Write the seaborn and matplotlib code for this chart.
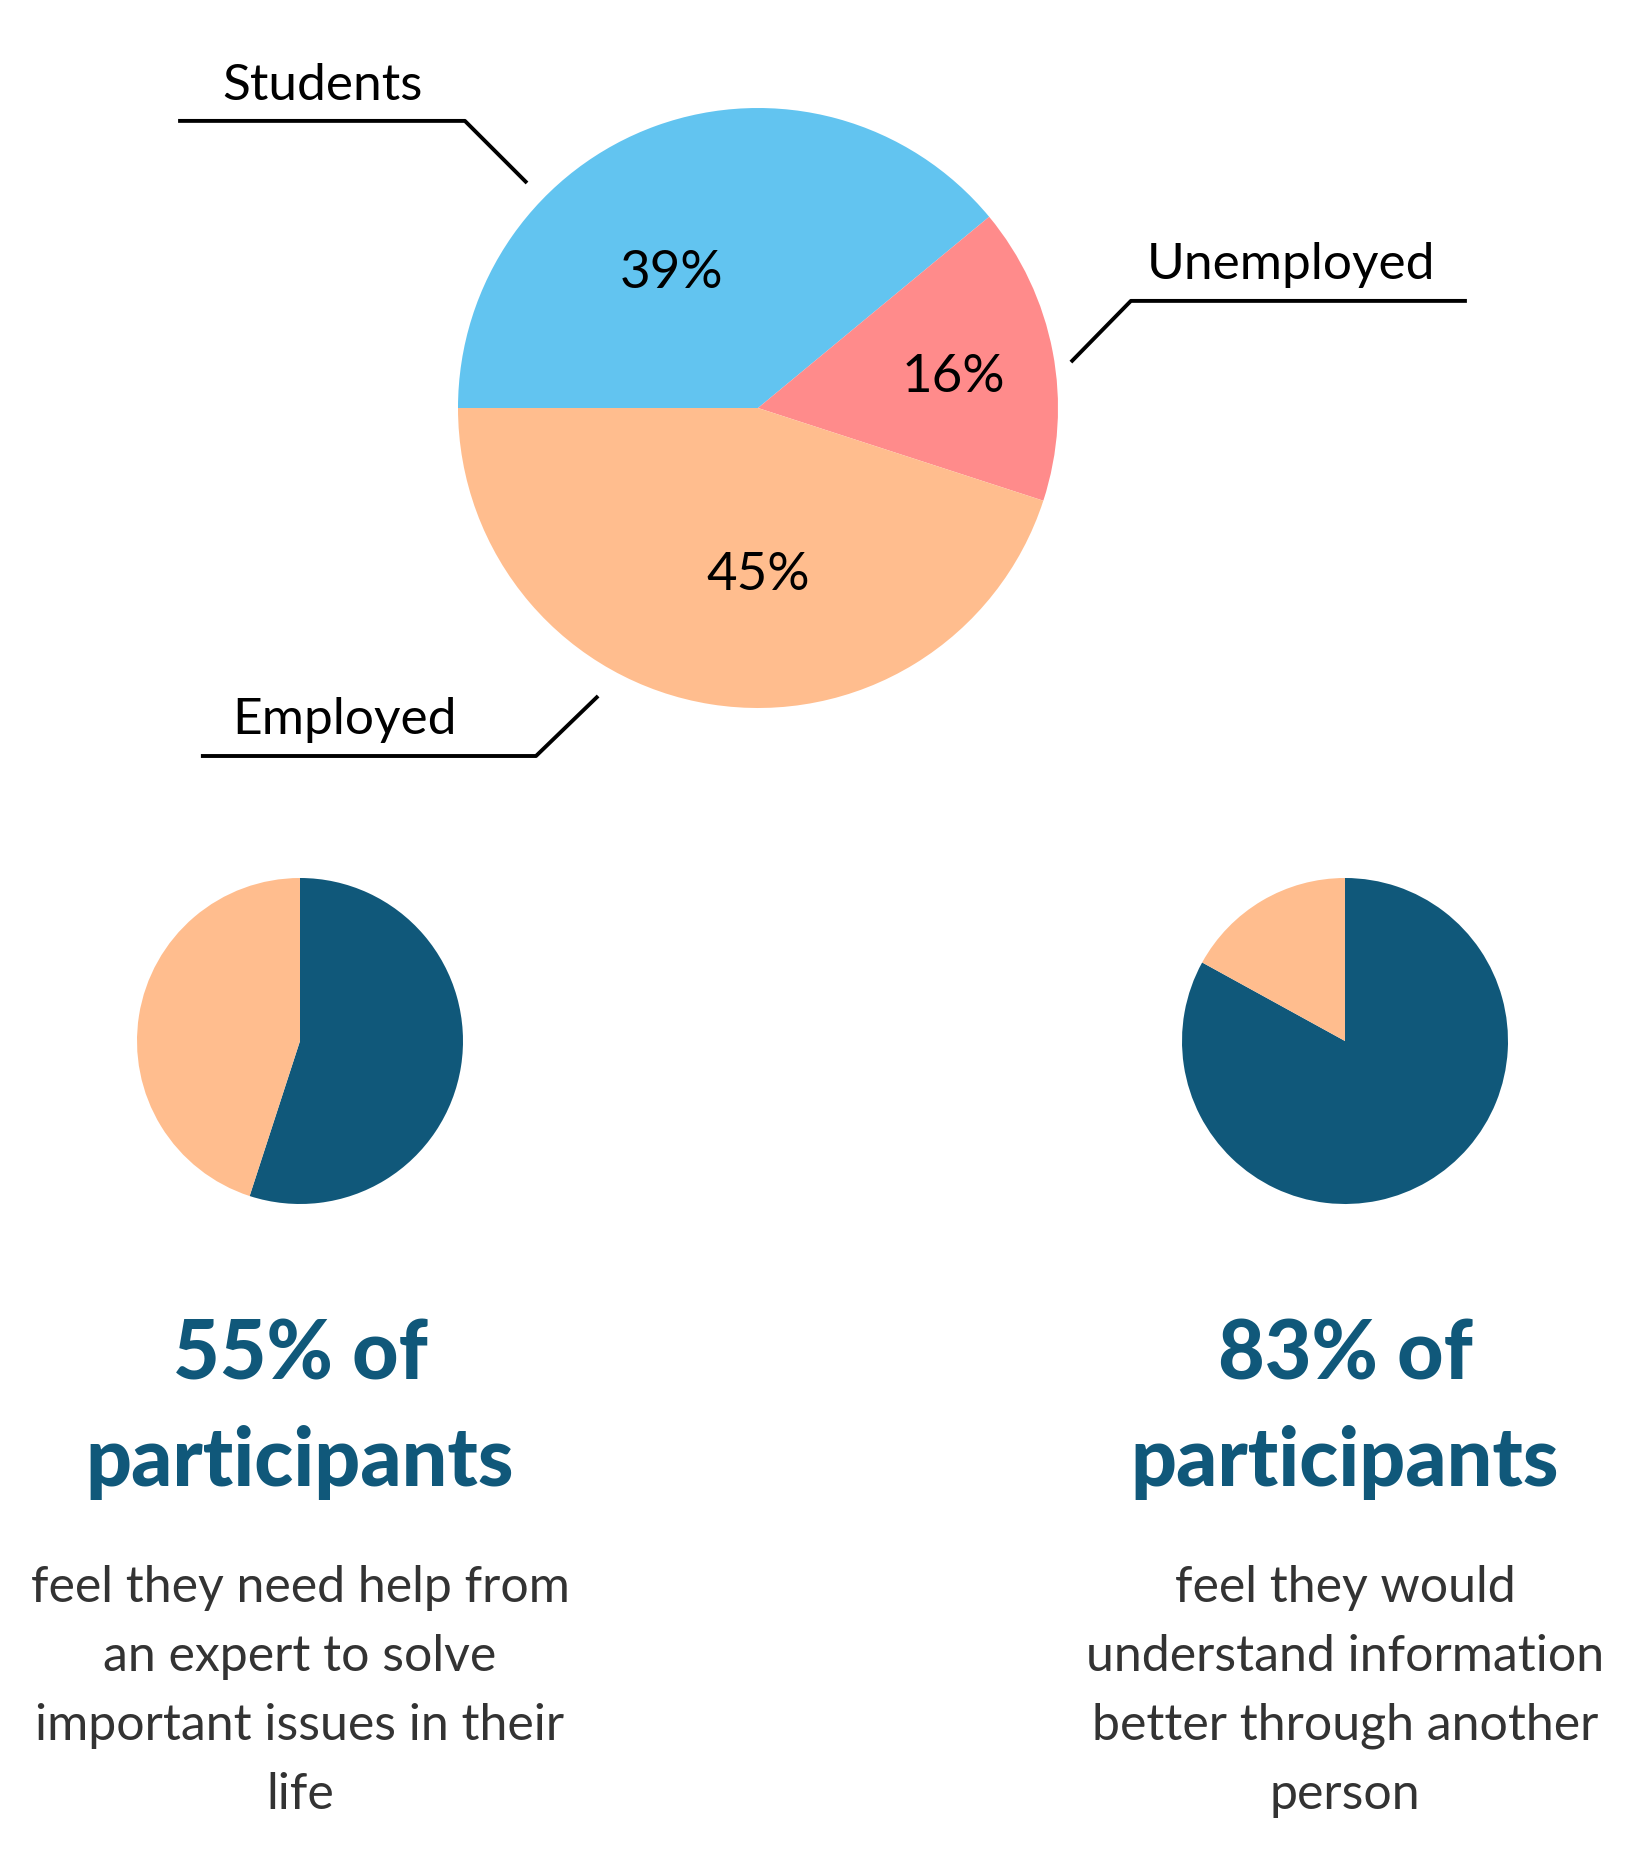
import numpy as np
import seaborn as sns
import matplotlib.pyplot as plt

# data
status_labels = ["Students", "Unemployed", "Employed"]
status_pcts = [39, 16, 45]
status_colors = ["#62C4F0", "#FF8B8B", "#FFBD8E"]

expert_vals = [55, 45]
person_vals = [83, 17]
small_colors = ["#10587A", "#FFBD8E"]

headline_left = ["55% of", "participants"]
headline_right = ["83% of", "participants"]
body_left = ["feel they need help from", "an expert to solve",
             "important issues in their", "life"]
body_right = ["feel they would", "understand information",
              "better through another", "person"]

sns.set_theme(style="white")
plt.rcParams['font.family'] = ['Lato', 'DejaVu Sans']

W, H = 1645, 1861
fig = plt.figure(figsize=(W / 100, H / 100), dpi=100)
fig.patch.set_facecolor("white")

# main pie: center (758, 408) px, radius 300 px
cx, cy, r = 758, 408, 300
ax = fig.add_axes([0, (H - 860) / H, 1, 860 / H])
wedges, _, autotexts = ax.pie(status_pcts, colors=status_colors, startangle=180,
                              counterclock=False, autopct='%d%%',
                              textprops=dict(fontsize=38, color="black"),
                              wedgeprops=dict(linewidth=0))
ax.set_aspect('auto')
ax.set_xlim((0 - cx) / r, (W - cx) / r)
ax.set_ylim((cy - 860) / r, cy / r)
ax.axis('off')

pct_pos = [(-0.29, 0.45), (0.65, 0.10), (0.0, -0.56)]
for t, p in zip(autotexts, pct_pos):
    t.set_position(p)
    t.set_ha('center')
    t.set_va('center')

# callouts
callouts = {
    "Students": dict(line=[(-1.933, 0.957), (-0.977, 0.957), (-0.77, 0.75)], text=(-1.453, 1.075)),
    "Unemployed": dict(line=[(2.363, 0.357), (1.243, 0.357), (1.043, 0.153)], text=(1.777, 0.475)),
    "Employed": dict(line=[(-1.857, -1.16), (-0.74, -1.16), (-0.533, -0.96)], text=(-1.377, -1.04)),
}
for name in status_labels:
    c = callouts[name]
    xs, ys = zip(*c["line"])
    ax.plot(xs, ys, color="black", lw=2.8, solid_capstyle='butt', clip_on=False)
    ax.text(*c["text"], name, fontsize=37, ha='center', va='center', color="black")

# small pies
for vals, xc in [(expert_vals, 300), (person_vals, 1345)]:
    rr = 163
    sax = fig.add_axes([(xc - rr) / W, (H - 1041 - rr) / H, 2 * rr / W, 2 * rr / H])
    sax.pie(vals, colors=small_colors, startangle=90, counterclock=False,
            wedgeprops=dict(linewidth=0))
    sax.set_xlim(-1, 1)
    sax.set_ylim(-1, 1)
    sax.axis('off')

# texts
for head, body, xc in [(headline_left, body_left, 300), (headline_right, body_right, 1345)]:
    for i, line in enumerate(head):
        fig.text(xc / W, 1 - (1356 + 107 * i) / H, line, ha='center', va='center',
                 fontsize=58, fontweight='black', color="#10587A")
    for i, line in enumerate(body):
        fig.text(xc / W, 1 - (1588 + 69 * i) / H, line, ha='center', va='center',
                 fontsize=36, color="#333333")

plt.savefig("out.png", dpi=100, facecolor="white")
